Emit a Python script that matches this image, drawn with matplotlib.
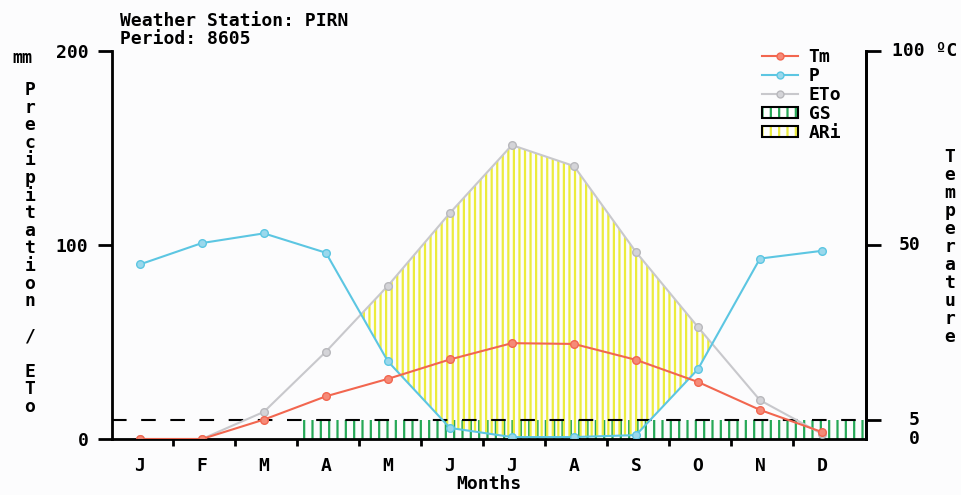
import numpy as np
import matplotlib
matplotlib.use("Agg")
from matplotlib import pyplot as plt
from matplotlib.lines import Line2D
from matplotlib.patches import Rectangle

# Datos
meses = ["J", "F", "M", "A", "M", "J", "J", "A", "S", "O", "N", "D"]
tm = [0, 0, 5, 11, 15.5, 20.5, 24.7, 24.5, 20.4, 14.7, 7.5, 1.8]      # ºC
p = [90, 101, 106, 96, 40, 5.7, 1, 1, 2, 36, 93, 97]                  # mm
eto = [0, 0, 14, 45, 79, 116.5, 151.5, 140.7, 96.4, 57.7, 20, 2.6]    # mm
gs = [0, 0, 0, 1, 1, 1, 1, 1, 1, 1, 1, 1]     # meses de periodo vegetativo
umbral_gs = 5                                  # ºC

rojo = "#f2664f"
azul = "#5cc6e2"
gris = "#c8c8cc"
verde = "#26a857"
amarillo = "#ecec3c"
fuente = "DejaVu Sans Mono"
fs = 13

plt.rcParams["font.family"] = fuente
plt.rcParams["font.weight"] = "bold"
plt.rcParams["hatch.linewidth"] = 1.6

fig = plt.figure(figsize=(9.61, 4.95), dpi=100, facecolor="#fcfcfd")
ax = fig.add_axes([112/961, 1 - 439/495, 754/961, 388/495])
ax.set_facecolor("#fcfcfd")

x = np.arange(len(meses))
tm_mm = np.array(tm) * 2   # 100 ºC = 200 mm
p = np.array(p)
eto = np.array(eto)

ax.set_xlim(-0.45, 11.71)
ax.set_ylim(0, 200)

# Periodo vegetativo (GS)
inicio = x[np.array(gs) == 1][0] - 0.46
ax.fill_between([inicio, 11.71], 0, umbral_gs * 2, facecolor="none",
                edgecolor=verde, hatch="||", linewidth=0, zorder=1)

# ARi: zona donde ETo > P
ax.fill_between(x, p, eto, where=eto > p, interpolate=True, facecolor="none",
                edgecolor=amarillo, hatch="|||", linewidth=0, zorder=1)

ax.axhline(umbral_gs * 2, color="black", lw=1.5, dashes=(7, 7), zorder=2)

ax.plot(x, eto, color=gris, lw=1.5, marker="o", ms=5.5, mfc="#d4d4d8", mec="#b8b8bc", zorder=3)
ax.plot(x, p, color=azul, lw=1.5, marker="o", ms=5.5, mfc="#9ad8ec", mec=azul, zorder=4)
ax.plot(x, tm_mm, color=rojo, lw=1.5, marker="o", ms=5.5, mfc="#f58a78", mec=rojo, zorder=5)

# Ejes
for lado in ["left", "right", "bottom"]:
    ax.spines[lado].set_linewidth(2)
ax.spines["top"].set_visible(False)

ax.set_xticks(x)
ax.set_xticklabels(meses, fontsize=fs, fontweight="bold")
ax.tick_params(axis="x", which="major", length=0, pad=13)
ax.set_xticks(x[:-1] + 0.54, minor=True)
ax.tick_params(axis="x", which="minor", length=5, width=2, direction="out")
ax.set_xlabel("Months", fontsize=fs, fontweight="bold", labelpad=0)

ax.set_yticks([0, 100, 200])
ax.set_yticklabels(["0", "100", "200"], fontsize=fs, fontweight="bold")
ax.tick_params(axis="y", length=10, width=2, pad=7)

ax2 = ax.twinx()
ax2.set_ylim(0, 100)
ax2.spines["top"].set_visible(False)
ax2.spines["right"].set_linewidth(2)
ax2.set_yticks([5, 50, 100])
ax2.set_yticklabels([])
ax2.tick_params(axis="y", length=11, width=2)
tr = ax2.get_yaxis_transform()
ax2.text(1.0345, 100, "100 ºC", transform=tr, ha="left", va="center", fontsize=fs, fontweight="bold")
ax2.text(1.0716, 50, "50", transform=tr, ha="right", va="center", fontsize=fs, fontweight="bold")
ax2.text(1.0716, 5, "5", transform=tr, ha="right", va="center", fontsize=fs, fontweight="bold")
ax2.text(1.0716, 0, "0", transform=tr, ha="right", va="center", fontsize=fs, fontweight="bold")

# Textos
fig.text(120/961, 1 - 12/495, "Weather Station: PIRN", ha="left", va="top", fontsize=fs, fontweight="bold")
fig.text(120/961, 1 - 30/495, "Period: 8605", ha="left", va="top", fontsize=fs, fontweight="bold")
fig.text(22/961, 1 - 58/495, "mm", ha="center", va="center", fontsize=fs - 1, fontweight="bold")

izq = "Precipitation / ETo"
for k, letra in enumerate(izq):
    fig.text(30/961, 1 - (90 + k*17.6)/495, letra, ha="center", va="center", fontsize=fs, fontweight="bold")

der = "Temperature"
for k, letra in enumerate(der):
    fig.text(950/961, 1 - (157 + k*18)/495, letra, ha="center", va="center", fontsize=fs, fontweight="bold")

# Leyenda
handles = [
    Line2D([], [], color=rojo, lw=1.5, marker="o", ms=5, mfc="#f58a78", mec=rojo),
    Line2D([], [], color=azul, lw=1.5, marker="o", ms=5, mfc="#9ad8ec", mec=azul),
    Line2D([], [], color=gris, lw=1.5, marker="o", ms=5, mfc="#d4d4d8", mec="#b8b8bc"),
    (Rectangle((0, 0), 1, 1, facecolor="white", edgecolor=verde, hatch="||", lw=0),
     Rectangle((0, 0), 1, 1, facecolor="none", edgecolor="black", lw=1.5)),
    (Rectangle((0, 0), 1, 1, facecolor="white", edgecolor=amarillo, hatch="||", lw=0),
     Rectangle((0, 0), 1, 1, facecolor="none", edgecolor="black", lw=1.5)),
]
ax.legend(handles, ["Tm", "P", "ETo", "GS", "ARi"], loc="upper left", bbox_to_anchor=(0.845, 1.04),
          frameon=False, prop={"family": fuente, "weight": "bold", "size": fs},
          labelspacing=0.05, handlelength=2.0, handletextpad=0.6, handleheight=0.55, borderpad=0.2)

fig.savefig("out.png", dpi=100, facecolor=fig.get_facecolor())
